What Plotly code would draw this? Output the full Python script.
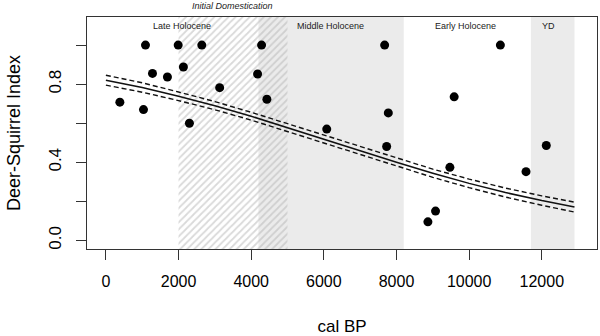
import plotly.graph_objects as go

# ---- data ----
site_age = [385, 1035, 1090, 1283, 1694, 1990, 2134, 2299, 2640, 3132, 4176, 4286,
            4432, 6080, 7674, 7775, 7729, 8865, 9075, 9470, 9588, 10860, 11566, 12124]
dsi = [0.708, 0.670, 1.0, 0.855, 0.837, 1.0, 0.888, 0.600, 1.0, 0.782, 0.852, 1.0,
       0.723, 0.570, 1.0, 0.653, 0.481, 0.095, 0.150, 0.374, 0.735, 1.0, 0.352, 0.486]

fit_x = [0, 1000, 2000, 3000, 4000, 5000, 6000, 7000, 8000, 9000, 10000, 11000, 12000, 12900]
fit_y = [0.820, 0.783, 0.738, 0.690, 0.636, 0.578, 0.519, 0.459, 0.400, 0.344, 0.292, 0.245, 0.204, 0.171]
fit_upper = [0.846, 0.807, 0.760, 0.711, 0.656, 0.598, 0.539, 0.479, 0.420, 0.365, 0.314, 0.268, 0.228, 0.196]
fit_lower = [0.795, 0.759, 0.716, 0.669, 0.616, 0.558, 0.499, 0.439, 0.380, 0.323, 0.270, 0.222, 0.180, 0.145]

# shaded periods (cal BP)
gray_start = [4200, 11700]
gray_end = [8200, 12900]
hatch_start = 2000
hatch_end = 5000

period_labels = ["Late Holocene", "Middle Holocene", "Early Holocene", "YD"]
period_label_x = [2090, 6180, 9890, 12180]
domestication_label = "Initial Domestication"
domestication_x = 3490

x_ticks = [0, 2000, 4000, 6000, 8000, 10000, 12000]
x_ticktext = ["0", "2000", "4000", "6000", "8000", "10000", "12000"]
y_ticks = [0.0, 0.2, 0.4, 0.6, 0.8, 1.0]
y_ticktext = ["0.0", "", "0.4", "", "0.8", ""]

x_range = [-520, 13520]
y_range = [-0.044, 1.144]

fig = go.Figure()

# gray background bands
shapes = []
for s, e in zip(gray_start, gray_end):
    shapes.append(dict(type="rect", xref="x", yref="paper", x0=s, x1=e, y0=0, y1=1,
                       fillcolor="#ebebeb", line=dict(width=0), layer="below"))

# hatched initial domestication zone
fig.add_trace(go.Scatter(
    x=[hatch_start, hatch_end, hatch_end, hatch_start, hatch_start],
    y=[y_range[0] - 0.1, y_range[0] - 0.1, y_range[1] + 0.1, y_range[1] + 0.1, y_range[0] - 0.1],
    mode="lines", line=dict(width=0), fill="toself", fillcolor="rgba(0,0,0,0)",
    fillpattern=dict(shape="/", fgcolor="#b4b4b4", bgcolor="rgba(0,0,0,0)", size=5, solidity=0.35),
    hoverinfo="skip", showlegend=False))

# fitted curve and confidence band
fig.add_trace(go.Scatter(x=fit_x, y=fit_upper, mode="lines",
                         line=dict(color="#111", width=1.4, dash="5px,3px"), showlegend=False))
fig.add_trace(go.Scatter(x=fit_x, y=fit_lower, mode="lines",
                         line=dict(color="#111", width=1.4, dash="5px,3px"), showlegend=False))
fig.add_trace(go.Scatter(x=fit_x, y=fit_y, mode="lines",
                         line=dict(color="#111", width=1.5), showlegend=False))

# points
fig.add_trace(go.Scatter(x=site_age, y=dsi, mode="markers",
                         marker=dict(color="black", size=9), showlegend=False))

annotations = []
for lab, lx in zip(period_labels, period_label_x):
    annotations.append(dict(x=lx, y=0.961, xref="x", yref="paper", text=lab, showarrow=False,
                            font=dict(size=9, color="#222", family="Liberation Sans, Arial"),
                            xanchor="center", yanchor="middle"))
annotations.append(dict(x=domestication_x, y=1.047, xref="x", yref="paper",
                        text="<i>" + domestication_label + "</i>", showarrow=False,
                        font=dict(size=9, color="#222", family="Liberation Sans, Arial"),
                        xanchor="center", yanchor="middle"))

fig.update_layout(
    width=600, height=336,
    margin=dict(l=87, r=3, t=17, b=87, autoexpand=False),
    plot_bgcolor="white", paper_bgcolor="white",
    shapes=shapes, annotations=annotations,
    font=dict(family="Liberation Sans, Arial", color="black"),
    xaxis=dict(range=x_range, tickvals=x_ticks, ticktext=x_ticktext, ticks="outside", ticklen=10,
               tickcolor="#333", ticklabelstandoff=8,
               showgrid=False, zeroline=False, showline=True, linecolor="#333", mirror=True,
               tickfont=dict(size=16), title=dict(text="cal BP", font=dict(size=17), standoff=30)),
    yaxis=dict(range=y_range, tickvals=y_ticks, ticktext=y_ticktext, tickangle=-90,
               ticks="outside", ticklen=10, tickcolor="#333", ticklabelstandoff=8,
               showgrid=False, zeroline=False, showline=True, linecolor="#333", mirror=True,
               tickfont=dict(size=17), title=dict(text="Deer-Squirrel Index", font=dict(size=18), standoff=20)),
)

fig.write_html("out.html", config={"displayModeBar": False},
               post_script="document.body.style.margin='0';document.body.style.padding='0';")
